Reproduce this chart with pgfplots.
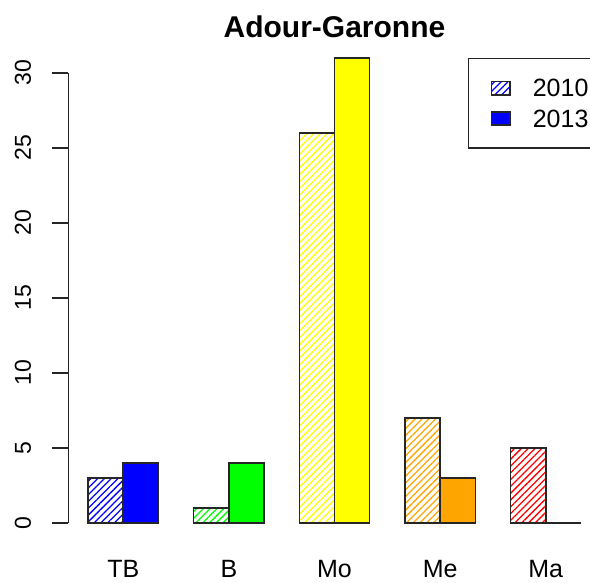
\documentclass[border=0pt]{standalone}
\usepackage{pgfplots}
\pgfplotsset{compat=1.18}
\usetikzlibrary{patterns.meta}
\usepackage{fontspec}
\setmainfont{Liberation Sans}
\definecolor{rorange}{RGB}{255,165,0}
\definecolor{rgreen}{RGB}{0,255,0}
\definecolor{ryellow}{RGB}{255,255,0}
\tikzset{
  hatch/.style={draw=black!85, line width=0.75pt, pattern={Lines[angle=45,distance=2.4pt,line width=0.65pt]}, pattern color=#1},
  solid/.style={draw=black!85, line width=0.75pt, fill=#1},
}
\begin{document}
\begin{tikzpicture}
\begin{axis}[
  scale only axis, width=260.85pt, height=251.1pt,
  xmin=0.44, xmax=15.256, ymin=-1.24, ymax=32.24,
  clip=false,
  axis line style={draw=none},
  xtick={2,5,8,11,14}, xticklabels={TB,B,Mo,Me,Ma},
  xtick style={draw=none},
  ytick={0,5,10,15,20,25,30}, ytick pos=left, xtick pos=bottom,
  tick align=outside, major tick length=8pt,
  ytick style={black!85, line width=0.75pt},
  /pgf/number format/assume math mode=true,
  yticklabel style={font=\fontsize{11.5}{11.5}\selectfont, xshift=-10.65pt, rotate=90, anchor=base},
  xticklabel style={font=\fontsize{12.5}{12.5}\selectfont, anchor=base, inner sep=0pt, yshift=-10pt},
  legend image code/.code={\draw[#1] (0pt,-3.3pt) rectangle (9.3pt,3.3pt);},
  legend style={at={(axis cs:11.79,31)}, anchor=north west, draw=black!85, line width=0.75pt, fill=white,
    inner xsep=11.0pt, inner ysep=10.35pt, row sep=6.4pt,
    font=\fontsize{12.5}{12.5}\selectfont, nodes={inner sep=0pt, text depth=0pt},
    /tikz/every odd column/.style={column sep=11pt}},
  legend cell align=left,
]
\addlegendimage{hatch=blue}
\addlegendentry{2010}
\addlegendimage{solid=blue}
\addlegendentry{2013}
% 2010 (hatched)
\addplot[forget plot, ybar, bar width=1, bar shift=0, hatch=blue] coordinates {(1.5,3)};
\addplot[forget plot, ybar, bar width=1, bar shift=0, hatch=rgreen] coordinates {(4.5,1)};
\addplot[forget plot, ybar, bar width=1, bar shift=0, hatch=ryellow] coordinates {(7.5,26)};
\addplot[forget plot, ybar, bar width=1, bar shift=0, hatch=rorange] coordinates {(10.5,7)};
\addplot[forget plot, ybar, bar width=1, bar shift=0, hatch=red] coordinates {(13.5,5)};
% 2013 (solid)
\addplot[forget plot, ybar, bar width=1, bar shift=0, solid=blue] coordinates {(2.5,4)};
\addplot[forget plot, ybar, bar width=1, bar shift=0, solid=rgreen] coordinates {(5.5,4)};
\addplot[forget plot, ybar, bar width=1, bar shift=0, solid=ryellow] coordinates {(8.5,31)};
\addplot[forget plot, ybar, bar width=1, bar shift=0, solid=rorange] coordinates {(11.5,3)};
\addplot[forget plot, ybar, bar width=1, bar shift=0, solid=red] coordinates {(14.5,0)};
\draw[black!85, line width=0.75pt] (axis cs:0.44,0) -- (axis cs:0.44,30);
\node[font=\bfseries\fontsize{15}{15}\selectfont, anchor=base, yshift=1.05pt] at (axis cs:8,32.24) {Adour-Garonne};
\end{axis}
\pgfresetboundingbox
\useasboundingbox ([xshift=-34.15pt,yshift=-20.7pt]current axis.south west) rectangle ([yshift=19.7pt]current axis.north east);
\end{tikzpicture}
\end{document}
